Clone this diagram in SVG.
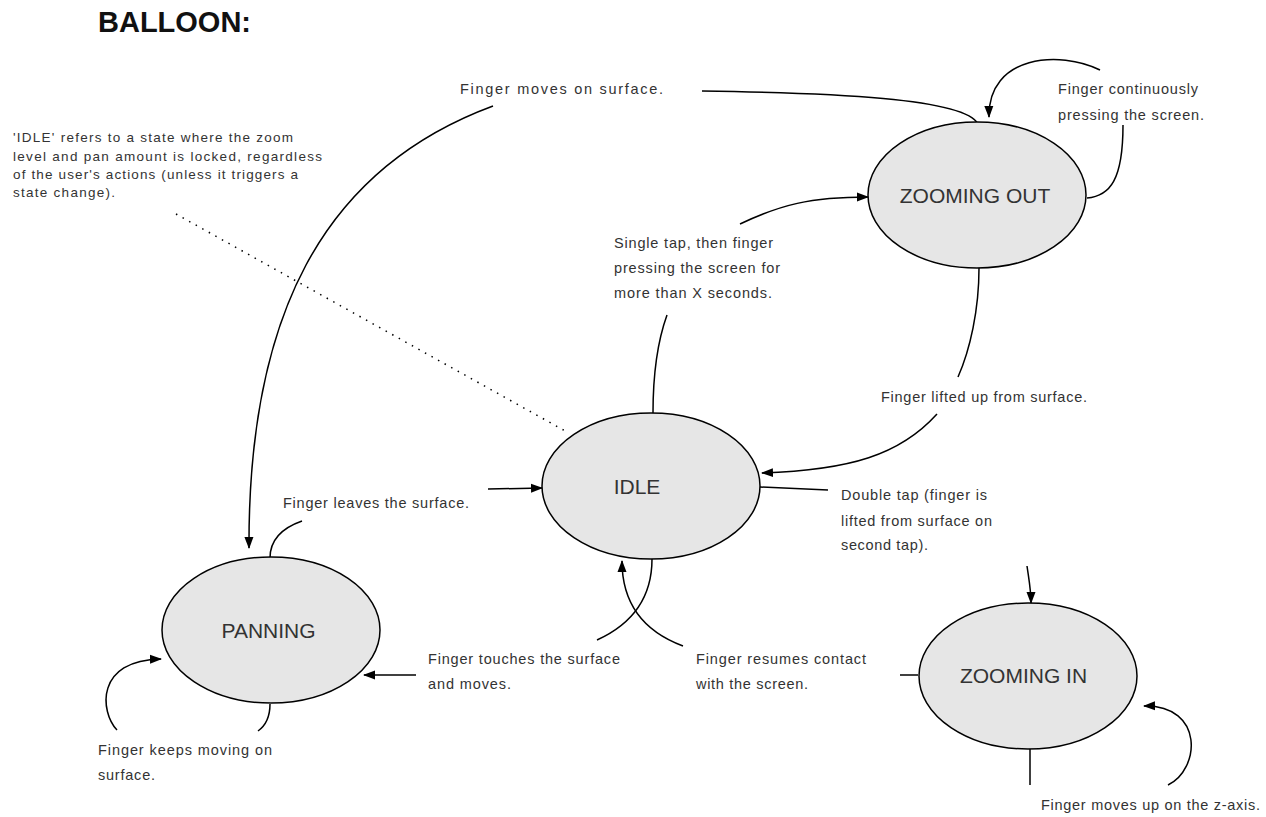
<svg xmlns="http://www.w3.org/2000/svg" width="1266" height="817" viewBox="0 0 1266 817">
<style>
.node{fill:#e6e6e6;stroke:#000;stroke-width:1.5}
.nl{font-family:"Liberation Sans",Arial,sans-serif;font-size:21px;fill:#333;text-anchor:middle}
.lb{font-family:"Liberation Sans",Arial,sans-serif;font-size:14.5px;fill:#333}
.note{font-family:"Liberation Sans",Arial,sans-serif;font-size:13.5px;fill:#333}
.e{fill:none;stroke:#000;stroke-width:1.5}
.a{marker-end:url(#arr)}
.dot{fill:none;stroke:#000;stroke-width:1.5;stroke-dasharray:1.5 6}
</style>
<defs>
<marker id="arr" markerUnits="userSpaceOnUse" markerWidth="12" markerHeight="10" viewBox="0 0 12 10" refX="11" refY="5" orient="auto">
<path d="M0,0.5 L12,5 L0,9.5 Z" fill="#000"/>
</marker>
</defs>
<rect width="1266" height="817" fill="#fff"/>
<text x="98" y="32" font-family="Liberation Sans,Arial,sans-serif" font-size="29" font-weight="bold" fill="#111">BALLOON:</text>

<g id="note">
<text class="note" x="13" y="142" textLength="280">'IDLE' refers to a state where the zoom</text>
<text class="note" x="13" y="161" textLength="309">level and pan amount is locked, regardless</text>
<text class="note" x="13" y="179" textLength="285">of the user's actions (unless it triggers a</text>
<text class="note" x="13" y="197" textLength="102">state change).</text>
</g>

<g id="connectors">
<path class="dot" d="M176 214 L567 432"/>
<!-- ZOOMING OUT -> PANNING -->
<path class="e" d="M978 124 C965 98, 830 93, 702 91"/>
<path class="e a" d="M493 106 C320 170, 248 320, 249 548"/>
<!-- ZOOMING OUT self loop -->
<path class="e" d="M1087 198 C1110 196, 1123 180, 1123 125"/>
<path class="e a" d="M1100 70 C1060 50, 988 55, 989 117"/>
<!-- IDLE -> ZOOMING OUT -->
<path class="e" d="M653 413 C653 370, 658 340, 667 315"/>
<path class="e a" d="M740 224 C780 205, 810 197, 868 197"/>
<!-- ZOOMING OUT -> IDLE -->
<path class="e" d="M979 268 C979 310, 970 350, 958 377"/>
<path class="e a" d="M937 414 C900 455, 850 470, 762 473"/>
<!-- IDLE -> ZOOMING IN -->
<path class="e" d="M760 487 L828 490"/>
<path class="e a" d="M1027 566 C1029 580, 1031 590, 1031 603"/>
<!-- ZOOMING IN -> IDLE -->
<path class="e" d="M918 675 L900 675"/>
<path class="e a" d="M683 646 C640 630, 622 600, 622 561"/>
<!-- IDLE -> PANNING -->
<path class="e" d="M652 559 C652 600, 630 625, 597 640"/>
<path class="e a" d="M416 675 L364 675"/>
<!-- PANNING -> IDLE -->
<path class="e" d="M270 558 C270 540, 282 528, 302 521"/>
<path class="e a" d="M488 489 L542 488"/>
<!-- PANNING self loop -->
<path class="e" d="M270 704 C270 718, 265 726, 258 731"/>
<path class="e a" d="M117 730 C100 712, 95 660, 161 659"/>
<!-- ZOOMING IN self loop -->
<path class="e" d="M1030 749 L1030 785"/>
<path class="e a" d="M1168 785 C1200 770, 1205 705, 1144 706"/>
</g>

<g id="node-zooming-out">
<ellipse class="node" cx="977" cy="195" rx="109" ry="73"/>
<text class="nl" x="975" y="203">ZOOMING OUT</text>
</g>
<g id="node-idle">
<ellipse class="node" cx="651" cy="486" rx="109" ry="73"/>
<text class="nl" x="637" y="494" font-size="19">IDLE</text>
</g>
<g id="node-panning">
<ellipse class="node" cx="271" cy="630" rx="109" ry="73"/>
<text class="nl" x="268.5" y="638">PANNING</text>
</g>
<g id="node-zooming-in">
<ellipse class="node" cx="1028" cy="676" rx="109" ry="73"/>
<text class="nl" x="1023.5" y="683">ZOOMING IN</text>
</g>

<g id="labels">
<text class="lb" x="460" y="94" textLength="203">Finger moves on surface.</text>
<text class="lb" x="1058" y="94" textLength="140">Finger continuously</text>
<text class="lb" x="1058" y="120" textLength="146">pressing the screen.</text>
<text class="lb" x="614" y="248" textLength="159">Single tap, then finger</text>
<text class="lb" x="614" y="273" textLength="166">pressing the screen for</text>
<text class="lb" x="614" y="298" textLength="158">more than X seconds.</text>
<text class="lb" x="881" y="402" textLength="206">Finger lifted up from surface.</text>
<text class="lb" x="841" y="500" textLength="146">Double tap (finger is</text>
<text class="lb" x="841" y="526" textLength="151">lifted from surface on</text>
<text class="lb" x="841" y="550" textLength="87">second tap).</text>
<text class="lb" x="283" y="508" textLength="186">Finger leaves the surface.</text>
<text class="lb" x="428" y="664" textLength="192">Finger touches the surface</text>
<text class="lb" x="428" y="689" textLength="83">and moves.</text>
<text class="lb" x="696" y="664" textLength="170">Finger resumes contact</text>
<text class="lb" x="696" y="689" textLength="112">with the screen.</text>
<text class="lb" x="98" y="755" textLength="174">Finger keeps moving on</text>
<text class="lb" x="98" y="780" textLength="57">surface.</text>
<text class="lb" x="1041" y="810" textLength="219">Finger moves up on the z-axis.</text>
</g>
</svg>
